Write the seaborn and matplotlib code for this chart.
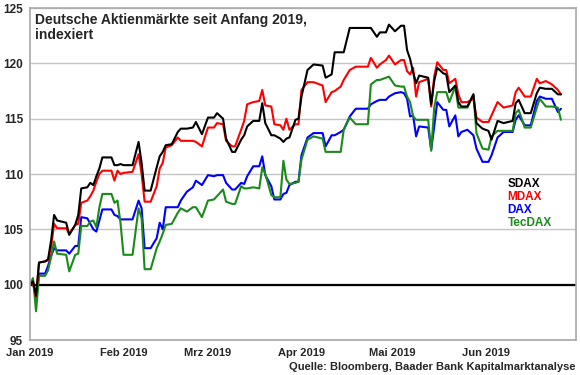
import pandas as pd
import seaborn as sns
import matplotlib.pyplot as plt

# Values (index, start of 2019 = 100)
dates = ['2019-01-01', '2019-01-02', '2019-01-03', '2019-01-04', '2019-01-06', '2019-01-07',
         '2019-01-08', '2019-01-09', '2019-01-10', '2019-01-13', '2019-01-14', '2019-01-16',
         '2019-01-17', '2019-01-18', '2019-01-20', '2019-01-21', '2019-01-22', '2019-01-23',
         '2019-01-24', '2019-01-25', '2019-01-28', '2019-01-29', '2019-01-30', '2019-01-31',
         '2019-02-01', '2019-02-04', '2019-02-06', '2019-02-07', '2019-02-08', '2019-02-10',
         '2019-02-12', '2019-02-13', '2019-02-14', '2019-02-15', '2019-02-17', '2019-02-19',
         '2019-02-20', '2019-02-22', '2019-02-24', '2019-02-25', '2019-02-27', '2019-03-01',
         '2019-03-03', '2019-03-04', '2019-03-06', '2019-03-07', '2019-03-09', '2019-03-10',
         '2019-03-12', '2019-03-13', '2019-03-14', '2019-03-16', '2019-03-18', '2019-03-19',
         '2019-03-20', '2019-03-22', '2019-03-23', '2019-03-25', '2019-03-26', '2019-03-27',
         '2019-03-28', '2019-03-30', '2019-03-31', '2019-04-01', '2019-04-03', '2019-04-05',
         '2019-04-08', '2019-04-09', '2019-04-11', '2019-04-12', '2019-04-14', '2019-04-15',
         '2019-04-17', '2019-04-19', '2019-04-23', '2019-04-24', '2019-04-26', '2019-04-27',
         '2019-04-29', '2019-04-30', '2019-05-02', '2019-05-04', '2019-05-05', '2019-05-06',
         '2019-05-07', '2019-05-08', '2019-05-09', '2019-05-10', '2019-05-13', '2019-05-14',
         '2019-05-15', '2019-05-16', '2019-05-18', '2019-05-19', '2019-05-20', '2019-05-22',
         '2019-05-23', '2019-05-24', '2019-05-26', '2019-05-28', '2019-05-29', '2019-05-31',
         '2019-06-02', '2019-06-03', '2019-06-05', '2019-06-07', '2019-06-10', '2019-06-11',
         '2019-06-12', '2019-06-14', '2019-06-16', '2019-06-18', '2019-06-19', '2019-06-21',
         '2019-06-23', '2019-06-25', '2019-06-26']

sdax = [100.0, 100.3, 99.0, 102.0, 102.1, 102.3, 104.0, 106.3, 105.8, 105.6, 104.5, 105.4,
        106.3, 108.7, 108.8, 109.2, 109.0, 109.8, 110.5, 111.5, 111.5, 110.8, 110.8, 110.9,
        110.8, 110.8, 112.9, 111.0, 108.5, 108.5, 110.6, 111.6, 112.0, 112.6, 112.7, 113.8,
        114.1, 114.1, 114.2, 114.7, 113.6, 115.1, 115.1, 115.5, 115.0, 113.2, 112.0, 112.0,
        113.1, 113.5, 114.3, 114.8, 114.8, 116.4, 114.6, 113.5, 113.5, 113.2, 112.9, 113.2,
        113.3, 114.9, 115.0, 117.0, 119.4, 119.9, 119.8, 118.7, 119.0, 121.0, 121.0, 121.0,
        123.2, 123.2, 123.2, 123.2, 122.4, 122.8, 122.8, 123.5, 122.9, 123.4, 123.4, 121.2,
        120.4, 119.2, 118.2, 118.9, 118.7, 116.3, 118.4, 119.6, 119.1, 119.0, 117.4, 118.0,
        116.5, 116.1, 116.1, 117.2, 114.6, 114.1, 113.9, 113.1, 114.8, 114.6, 114.8, 116.4,
        116.7, 115.5, 115.5, 117.3, 117.8, 117.7, 117.7, 117.2, 117.2]

mdax = [100.0, 100.2, 98.9, 102.0, 102.1, 102.2, 103.4, 105.5, 105.1, 105.1, 104.6, 105.4,
        105.5, 107.4, 107.6, 108.0, 108.5, 109.3, 110.0, 110.3, 110.3, 109.4, 110.3, 110.0,
        110.1, 110.2, 111.8, 110.0, 107.5, 107.5, 108.9, 110.5, 111.0, 112.4, 112.6, 113.3,
        113.0, 113.0, 113.0, 112.9, 112.5, 114.2, 114.2, 114.6, 114.5, 113.0, 112.5, 112.5,
        114.0, 114.8, 116.3, 116.5, 116.6, 117.6, 116.2, 116.1, 114.5, 114.4, 114.0, 115.0,
        114.0, 114.5, 114.5, 117.6, 118.3, 118.3, 118.0, 116.5, 117.4, 117.5, 117.9, 118.5,
        119.4, 119.7, 119.7, 120.5, 119.6, 119.9, 120.3, 120.7, 119.9, 120.3, 120.3, 119.3,
        119.0, 119.6, 117.0, 118.3, 118.6, 116.1, 118.8, 120.1, 119.4, 119.4, 118.2, 118.6,
        117.2, 116.5, 116.5, 116.8, 115.1, 114.7, 114.7, 115.3, 116.5, 116.0, 116.2, 117.4,
        117.8, 117.0, 117.0, 118.6, 118.2, 118.4, 118.1, 117.6, 117.2]

dax = [100.0, 100.3, 98.6, 101.0, 101.0, 101.7, 102.6, 103.3, 103.1, 103.1, 102.8, 103.5,
       103.5, 106.1, 106.0, 105.5, 105.0, 104.8, 105.8, 106.8, 106.8, 106.3, 106.2, 105.9,
       105.9, 105.9, 107.6, 106.9, 103.3, 103.3, 104.2, 105.6, 105.0, 107.0, 107.0, 107.0,
       107.6, 108.4, 108.8, 109.4, 109.0, 109.9, 109.8, 109.9, 109.9, 109.2, 108.6, 108.6,
       109.2, 109.1, 109.8, 110.7, 110.7, 111.6, 109.9, 108.9, 107.7, 107.7, 108.2, 108.3,
       109.0, 109.3, 109.3, 111.7, 113.3, 113.7, 113.7, 112.5, 113.5, 113.5, 113.8, 114.0,
       115.2, 115.9, 115.9, 116.3, 116.6, 116.7, 116.7, 117.0, 117.3, 117.4, 117.3, 116.8,
       115.2, 115.3, 113.4, 114.3, 114.2, 112.2, 114.3, 116.5, 115.8, 115.8, 114.3, 115.3,
       113.4, 113.8, 114.0, 113.5, 112.3, 111.1, 111.1, 111.7, 113.3, 113.8, 113.8, 114.9,
       115.3, 114.4, 114.4, 116.6, 117.0, 116.8, 116.8, 115.6, 115.9]

tecdax = [100.0, 100.6, 97.6, 100.8, 100.8, 101.3, 102.5, 103.9, 102.8, 102.7, 101.2, 102.7,
          102.8, 105.3, 105.3, 105.7, 105.8, 105.2, 107.0, 108.2, 108.2, 107.4, 107.6, 105.6,
          102.7, 102.7, 106.9, 106.0, 101.4, 101.4, 103.3, 103.9, 104.6, 105.4, 105.5, 106.5,
          106.9, 106.6, 107.0, 107.0, 106.1, 107.6, 107.7, 108.0, 108.6, 107.5, 107.3, 107.3,
          108.9, 108.7, 108.7, 108.8, 108.7, 110.6, 110.0, 108.1, 107.9, 107.9, 111.2, 109.5,
          109.1, 109.2, 109.3, 111.3, 113.1, 113.4, 113.2, 112.0, 112.0, 112.0, 112.0, 114.0,
          115.1, 114.5, 114.5, 118.1, 118.5, 118.5, 118.7, 118.8, 118.0, 117.9, 117.9, 117.0,
          116.5, 115.2, 114.9, 114.9, 114.9, 112.1, 116.0, 117.4, 117.4, 117.4, 116.5, 117.9,
          116.0, 116.0, 116.0, 117.2, 113.7, 112.3, 112.2, 113.4, 113.9, 113.9, 113.9, 115.5,
          115.8, 114.2, 114.2, 116.0, 116.8, 116.1, 116.1, 116.0, 114.9]

series_names = ['SDAX', 'MDAX', 'DAX', 'TecDAX']
draw_order = ['DAX', 'TecDAX', 'MDAX', 'SDAX']
colors = {'SDAX': '#000000', 'MDAX': '#ff0000', 'DAX': '#0000ff', 'TecDAX': '#1a8a1a'}
month_ticks = ['2019-01-01', '2019-02-01', '2019-03-01', '2019-04-01',
               '2019-05-01', '2019-06-01', '2019-07-01']
month_labels = ['Jan 2019', 'Feb 2019', 'Mrz 2019', 'Apr 2019', 'Mai 2019', 'Jun 2019', '']

df = pd.DataFrame({'Datum': pd.to_datetime(dates), 'SDAX': sdax, 'MDAX': mdax,
                   'DAX': dax, 'TecDAX': tecdax})
df = df.melt(id_vars='Datum', var_name='Index', value_name='Wert')

sns.set_style('white')
plt.rcParams['font.family'] = ['Liberation Sans', 'DejaVu Sans']

fig = plt.figure(figsize=(5.8, 3.75), dpi=100)
ax = fig.add_axes([0.0517, 0.0933, 0.9414, 0.8853])

sns.lineplot(data=df, x='Datum', y='Wert', hue='Index', hue_order=draw_order,
             palette=colors, linewidth=1.5, estimator=None, sort=False,
             legend=False, ax=ax)

ax.axhline(100, color='black', linewidth=1.6, zorder=1)

# axes, grid and ticks
ax.set_ylim(95, 125)
ax.set_xlim(pd.Timestamp(month_ticks[0]), pd.Timestamp(month_ticks[-1]))
ax.set_yticks(range(95, 126, 5))
ax.set_xticks(pd.to_datetime(month_ticks))
ax.set_xticklabels(month_labels)
ax.yaxis.grid(True, color='#c4c4c4', linewidth=1)
ax.set_axisbelow(True)
for side in ['left', 'right', 'top', 'bottom']:
    ax.spines[side].set_color('#a8a8a8')
    ax.spines[side].set_linewidth(1.2)
ax.tick_params(axis='y', length=0, pad=5, labelsize=8.5)
ax.tick_params(axis='x', length=4, color='#a8a8a8', width=1, pad=2, labelsize=8)
for lab in ax.get_xticklabels() + ax.get_yticklabels():
    lab.set_fontweight('bold')
ax.set(xlabel='', ylabel='')

# title inside the plot
ax.text(0.009, 0.985, 'Deutsche Aktienmärkte seit Anfang 2019,\nindexiert',
        transform=ax.transAxes, ha='left', va='top', fontsize=10,
        fontweight='bold', linespacing=1.1)

# legend as coloured labels
legend_y = [0.470, 0.431, 0.392, 0.351]
for name, y in zip(series_names, legend_y):
    ax.text(0.875, y, name, transform=ax.transAxes, ha='left', va='center',
            fontsize=8.5, fontweight='bold', color=colors[name])

fig.text(0.992, 0.021, 'Quelle: Bloomberg, Baader Bank Kapitalmarktanalyse',
         ha='right', va='center', fontsize=8, fontweight='bold')

fig.savefig('out.png', dpi=100)
